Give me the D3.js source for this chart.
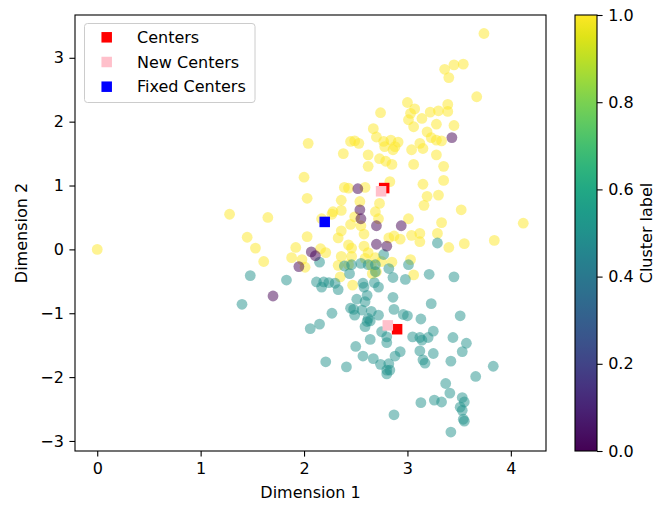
<!DOCTYPE html>
<html>
<head>
<meta charset="utf-8">
<script src="https://cdn.jsdelivr.net/npm/d3@7"></script>
<style>
  body { margin: 0; background: #fff; }
  svg text { font-family: "DejaVu Sans", sans-serif; }
</style>
</head>
<body>
<div id="chart"></div>
<script>
// points per cluster label as [x, y]
const label1Points = [
  [0.00, 0.00], [3.74, 3.38], [3.36, 2.82], [3.45, 2.89], [3.54, 2.90], [3.40, 2.69], [3.67, 2.39],
  [3.00, 2.30], [3.07, 2.20], [3.03, 2.13], [3.14, 2.05], [3.01, 2.03], [3.06, 1.92], [3.22, 2.15],
  [3.30, 2.17], [3.39, 2.27], [3.39, 2.16], [3.28, 1.96], [3.45, 1.94], [3.19, 1.84], [3.23, 1.75],
  [3.28, 1.71], [3.33, 1.70], [3.12, 1.66], [3.15, 1.58], [3.04, 1.56], [3.28, 1.48], [3.06, 1.33],
  [3.35, 1.30], [2.74, 2.14], [2.67, 1.89], [2.70, 1.76], [2.77, 1.69], [2.84, 1.71], [2.91, 1.68],
  [2.88, 1.61], [2.86, 1.56], [2.78, 1.61], [2.45, 1.69], [2.49, 1.70], [2.53, 1.66], [2.04, 1.66],
  [2.38, 1.50], [2.62, 1.48], [2.73, 1.42], [2.79, 1.38], [2.85, 1.33], [2.62, 1.30], [2.00, 1.13],
  [2.83, 1.06], [3.35, 1.08], [3.15, 1.02], [2.39, 0.97], [2.43, 0.96], [2.59, 0.97], [3.30, 0.85],
  [3.19, 0.83], [3.16, 0.69], [2.03, 0.80], [2.36, 0.77], [2.54, 0.75], [2.73, 0.72], [3.52, 0.62],
  [2.28, 0.59], [2.36, 0.61], [2.49, 0.51], [2.69, 0.59], [2.72, 0.48], [1.28, 0.55], [1.65, 0.50],
  [2.45, 0.39], [2.55, 0.37], [3.01, 0.48], [3.33, 0.42], [4.12, 0.41], [2.36, 0.29], [2.58, 0.24],
  [2.33, 0.18], [2.82, 0.18], [2.87, 0.21], [2.93, 0.16], [3.04, 0.22], [3.12, 0.25], [3.12, 0.12],
  [3.29, 0.25], [1.45, 0.19], [2.03, 0.20], [1.53, 0.02], [1.92, 0.03], [2.43, 0.07], [2.46, 0.02],
  [2.58, 0.05], [2.62, -0.05], [3.40, 0.03], [3.55, 0.09], [3.84, 0.14], [2.16, 0.01], [2.21, -0.05],
  [1.88, -0.13], [1.61, -0.19], [2.01, -0.28], [2.36, -0.11], [2.46, -0.11], [2.59, -0.14], [2.69, -0.13],
  [2.75, -0.19], [2.85, -0.20], [3.03, -0.16], [2.33, -0.25], [2.43, -0.24], [2.66, -0.38], [2.70, -0.35],
  [3.06, -0.40], [2.35, -0.43], [2.47, -0.56], [2.17, 0.48], [2.27, 0.55], [1.98, -0.16], [2.65, -0.25]
];
const label05Points = [
  [3.29, 0.10], [2.77, -0.08], [2.15, -0.20], [2.39, -0.26], [2.46, -0.24], [2.55, -0.22], [2.62, -0.24],
  [2.69, -0.24], [3.01, -0.24], [2.82, -0.30], [2.69, -0.35], [2.44, -0.38], [1.48, -0.41], [1.83, -0.48],
  [3.21, -0.39], [3.45, -0.43], [2.86, -0.44], [2.98, -0.47], [2.12, -0.51], [2.19, -0.51], [2.24, -0.52],
  [2.30, -0.53], [2.17, -0.59], [2.33, -0.63], [2.57, -0.53], [2.68, -0.52], [2.72, -0.59], [2.58, -0.59],
  [1.40, -0.86], [2.86, -0.75], [2.61, -0.72], [2.51, -0.78], [2.59, -0.82], [3.23, -0.85], [2.87, -0.94],
  [2.45, -0.92], [2.48, -0.94], [2.56, -0.95], [2.65, -0.97], [2.49, -1.03], [2.72, -1.03], [2.96, -1.02],
  [3.00, -1.04], [2.27, -1.00], [3.51, -1.04], [3.13, -1.09], [2.62, -1.08], [2.61, -1.13], [2.64, -1.12],
  [2.59, -1.21], [2.15, -1.17], [2.06, -1.24], [2.75, -1.29], [2.80, -1.37], [2.80, -1.46], [2.64, -1.41],
  [2.50, -1.52], [2.93, -1.60], [2.88, -1.67], [3.05, -1.37], [3.14, -1.42], [3.12, -1.38], [3.20, -1.38],
  [3.25, -1.28], [3.44, -1.38], [3.57, -1.47], [3.53, -1.60], [3.12, -1.59], [3.25, -1.63], [3.42, -1.75],
  [3.15, -1.73], [3.17, -1.78], [2.57, -1.67], [2.67, -1.71], [2.74, -1.80], [2.82, -1.79], [2.80, -1.89],
  [2.80, -1.95], [2.83, -1.89], [2.21, -1.76], [2.41, -1.84], [3.83, -1.83], [3.66, -1.99], [3.37, -2.10],
  [3.41, -2.25], [3.53, -2.32], [3.55, -2.39], [3.51, -2.47], [3.53, -2.52], [3.54, -2.66], [3.55, -2.69],
  [3.13, -2.40], [3.26, -2.36], [3.33, -2.39], [2.87, -2.59], [3.42, -2.86]
];
const label0Points = [
  [3.43, 1.75], [2.52, 0.95], [2.54, 0.62], [2.55, 0.48], [2.70, 0.37], [2.94, 0.37],
  [2.70, 0.08], [2.80, 0.05], [2.07, -0.04], [2.11, -0.10], [1.95, -0.27], [1.70, -0.73]
];
const centers = [[2.775, 0.96], [2.90, -1.25]];
const newCenters = [[2.745, 0.91], [2.81, -1.19]];
const fixedCenters = [[2.20, 0.43]];

const xTicks = [0, 1, 2, 3, 4];
const yTicks = [-3, -2, -1, 0, 1, 2, 3];
const cbTicks = [0, 0.2, 0.4, 0.6, 0.8, 1.0];
const legendItems = [
  { name: "Centers", color: "red" },
  { name: "New Centers", color: "pink" },
  { name: "Fixed Centers", color: "blue" }
];

const width = 669, height = 506;
const plot = { left: 75, right: 546, top: 15, bottom: 451 };
const fs = 16;

const svg = d3.select('#chart').append('svg')
  .attr('width', width).attr('height', height);

const x = d3.scaleLinear().domain([-0.215, 4.34]).range([plot.left, plot.right]);
const y = d3.scaleLinear().domain([-3.157, 3.67]).range([plot.bottom, plot.top]);
const color = d3.scaleSequential(d3.interpolateViridis).domain([0, 1]);

// scatter
const pts = [
  ...label1Points.map(p => ({ x: p[0], y: p[1], c: 1 })),
  ...label05Points.map(p => ({ x: p[0], y: p[1], c: 0.5 })),
  ...label0Points.map(p => ({ x: p[0], y: p[1], c: 0 }))
];
svg.append('g').selectAll('circle')
  .data(pts)
  .enter().append('circle')
  .attr('cx', d => x(d.x))
  .attr('cy', d => y(d.y))
  .attr('r', 5.4)
  .attr('fill', d => color(d.c))
  .attr('fill-opacity', 0.5);

// centres as squares
const sq = 10.5;
function squares(data, fill) {
  svg.append('g').selectAll('rect')
    .data(data)
    .enter().append('rect')
    .attr('x', d => x(d[0]) - sq / 2)
    .attr('y', d => y(d[1]) - sq / 2)
    .attr('width', sq).attr('height', sq)
    .attr('fill', fill);
}
squares(centers, 'red');
squares(newCenters, 'pink');
squares(fixedCenters, 'blue');

// axes
const intFmt = d3.format('d');
const xAxis = d3.axisBottom(x).tickValues(xTicks).tickFormat(intFmt).tickSize(5.6).tickPadding(5.6).tickSizeOuter(0);
const yAxis = d3.axisLeft(y).tickValues(yTicks).tickFormat(intFmt).tickSize(5.6).tickPadding(5.6).tickSizeOuter(0);
const gx = svg.append('g').attr('transform', `translate(0,${plot.bottom})`).call(xAxis);
const gy = svg.append('g').attr('transform', `translate(${plot.left},0)`).call(yAxis);
[gx, gy].forEach(g => {
  g.select('.domain').remove();
  g.selectAll('line').attr('stroke', '#000').attr('stroke-width', 1.1);
  g.selectAll('text').attr('font-size', fs).attr('fill', '#000').attr('font-family', 'DejaVu Sans');
});

svg.append('rect')
  .attr('x', plot.left).attr('y', plot.top)
  .attr('width', plot.right - plot.left).attr('height', plot.bottom - plot.top)
  .attr('fill', 'none').attr('stroke', '#000').attr('stroke-width', 1.1);

svg.append('text')
  .attr('x', (plot.left + plot.right) / 2).attr('y', 498)
  .attr('text-anchor', 'middle').attr('font-size', fs)
  .text('Dimension 1');
svg.append('text')
  .attr('transform', `translate(27,${(plot.top + plot.bottom) / 2}) rotate(-90)`)
  .attr('text-anchor', 'middle').attr('font-size', fs)
  .text('Dimension 2');

// legend
const lg = svg.append('g');
lg.append('rect')
  .attr('x', 84.5).attr('y', 23.5).attr('width', 170.5).attr('height', 79)
  .attr('rx', 3).attr('fill', '#fff').attr('fill-opacity', 0.8)
  .attr('stroke', '#ccc').attr('stroke-width', 1);
legendItems.forEach((d, i) => {
  const cy = 37.3 + i * 24.7;
  lg.append('rect')
    .attr('x', 106.7 - sq / 2).attr('y', cy - sq / 2)
    .attr('width', sq).attr('height', sq).attr('fill', d.color);
  lg.append('text')
    .attr('x', 137).attr('y', cy).attr('dy', '0.35em')
    .attr('font-size', fs).text(d.name);
});

// colorbar
const cb = { x: 575, w: 22, top: plot.top, bottom: plot.bottom };
const grad = svg.append('defs').append('linearGradient')
  .attr('id', 'viridis').attr('x1', 0).attr('y1', 1).attr('x2', 0).attr('y2', 0);
d3.range(0, 1.0001, 0.05).forEach(t => {
  grad.append('stop').attr('offset', t).attr('stop-color', color(t));
});
svg.append('rect')
  .attr('x', cb.x).attr('y', cb.top).attr('width', cb.w).attr('height', cb.bottom - cb.top)
  .attr('fill', 'url(#viridis)').attr('stroke', '#000').attr('stroke-width', 1.1);
const cbScale = d3.scaleLinear().domain([0, 1]).range([cb.bottom, cb.top]);
const gcb = svg.append('g').attr('transform', `translate(${cb.x + cb.w},0)`)
  .call(d3.axisRight(cbScale).tickValues(cbTicks).tickFormat(d3.format('.1f'))
    .tickSize(5.6).tickPadding(5.6).tickSizeOuter(0));
gcb.select('.domain').remove();
gcb.selectAll('line').attr('stroke', '#000').attr('stroke-width', 1.1);
gcb.selectAll('text').attr('font-size', fs).attr('fill', '#000').attr('font-family', 'DejaVu Sans');
svg.append('text')
  .attr('transform', `translate(652,${(plot.top + plot.bottom) / 2}) rotate(-90)`)
  .attr('text-anchor', 'middle').attr('font-size', fs)
  .text('Cluster label');
</script>
</body>
</html>
